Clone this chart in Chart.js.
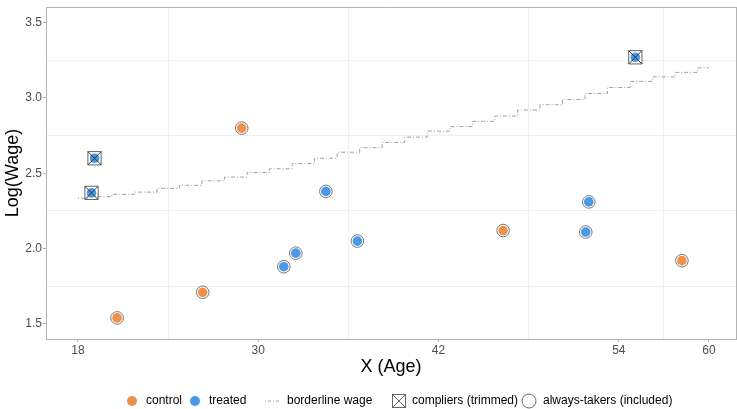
<!DOCTYPE html>
<html>
<head>
<meta charset="utf-8">
<script src="https://cdn.jsdelivr.net/npm/chart.js@4.4.1/dist/chart.umd.min.js"></script>
<style>
  html, body { margin: 0; padding: 0; background: #fff; }
  #wrap { width: 737px; height: 409px; }
</style>
</head>
<body>
<div id="wrap"><canvas id="chart" width="737" height="409"></canvas></div>
<script>
// observed points
const controlAge = [20.6, 26.3, 28.9, 46.3, 58.2];
const controlWage = [1.54, 1.71, 2.80, 2.12, 1.92];
const treatedAge = [18.9, 19.1, 31.7, 32.5, 34.5, 36.6, 51.8, 52.0, 55.1];
const treatedWage = [2.37, 2.60, 1.88, 1.97, 2.38, 2.05, 2.11, 2.31, 3.27];
const treatedComplier = [true, true, false, false, false, false, false, false, true];

// borderline wage (step line), read every 1.5 years
const borderAge = [18, 19.5, 21, 22.5, 24, 25.5, 27, 28.5, 30, 31.5, 33, 34.5, 36, 37.5, 39,
                   40.5, 42, 43.5, 45, 46.5, 48, 49.5, 51, 52.5, 54, 55.5, 57, 58.5, 60];
const borderWage = [2.335, 2.345, 2.36, 2.375, 2.40, 2.42, 2.45, 2.475, 2.505, 2.53, 2.565, 2.60,
                    2.64, 2.67, 2.705, 2.74, 2.78, 2.81, 2.845, 2.88, 2.92, 2.955, 2.99, 3.03,
                    3.07, 3.11, 3.14, 3.17, 3.20];

const xTicks = [18, 30, 42, 54, 60];
const xMinor = [24, 36, 48, 57];
const yTicks = [1.5, 2.0, 2.5, 3.0, 3.5];
const yMinor = [1.75, 2.25, 2.75, 3.25];

const legendLabels = ['control', 'treated', 'borderline wage', 'compliers (trimmed)', 'always-takers (included)'];

const ORANGE = '#F0914B';
const BLUE = '#4A98E8';
const FONT = '"Liberation Sans", Arial, sans-serif';

const pts = (xs, ys) => xs.map((x, i) => ({ x: x, y: ys[i] }));
const controlPts = pts(controlAge, controlWage);
const treatedPts = pts(treatedAge, treatedWage);
const compliers = treatedPts.filter((p, i) => treatedComplier[i]);
const alwaysTakers = controlPts.concat(treatedPts.filter((p, i) => !treatedComplier[i]));

const setTicks = (vals) => (scale) => { scale.ticks = vals.map(v => ({ value: v })); };
// fixed axis size, no extra label padding pushed into the layout
const fixSize = (w, h) => (s) => {
  if (w !== null) s.width = w;
  if (h !== null) s.height = h;
  s.paddingLeft = s.paddingRight = s.paddingTop = s.paddingBottom = 0;
};

// hand-placed legend row under the x title
const legendPlugin = {
  id: 'bottomLegend',
  afterDraw(chart) {
    const ctx = chart.ctx;
    const y = 401;
    ctx.save();
    ctx.font = '12px ' + FONT;
    ctx.fillStyle = '#000';
    ctx.textBaseline = 'middle';
    ctx.textAlign = 'left';

    ctx.beginPath(); ctx.fillStyle = ORANGE; ctx.arc(132, y, 5, 0, Math.PI * 2); ctx.fill();
    ctx.fillStyle = '#000'; ctx.fillText(legendLabels[0], 146, y);

    ctx.beginPath(); ctx.fillStyle = BLUE; ctx.arc(195, y, 5, 0, Math.PI * 2); ctx.fill();
    ctx.fillStyle = '#000'; ctx.fillText(legendLabels[1], 209, y);

    ctx.strokeStyle = '#888'; ctx.lineWidth = 0.8; ctx.setLineDash([1, 2, 3, 2]);
    ctx.beginPath(); ctx.moveTo(265, y); ctx.lineTo(280, y); ctx.stroke();
    ctx.setLineDash([]);
    ctx.fillText(legendLabels[2], 287, y);

    ctx.strokeStyle = '#666'; ctx.lineWidth = 1;
    ctx.strokeRect(392.5, y - 6.5, 13, 13);
    ctx.beginPath();
    ctx.moveTo(392.5, y - 6.5); ctx.lineTo(405.5, y + 6.5);
    ctx.moveTo(405.5, y - 6.5); ctx.lineTo(392.5, y + 6.5);
    ctx.stroke();
    ctx.fillText(legendLabels[3], 412, y);

    ctx.beginPath(); ctx.arc(529, y, 7, 0, Math.PI * 2); ctx.stroke();
    ctx.fillText(legendLabels[4], 543, y);
    ctx.restore();
  }
};

new Chart(document.getElementById('chart'), {
  type: 'scatter',
  data: {
    datasets: [
      {
        label: legendLabels[3] + ' x',
        data: compliers,
        pointStyle: 'crossRot',
        pointRadius: 9.4,
        borderColor: '#333',
        borderWidth: 1,
        order: 1
      },
      {
        label: legendLabels[3],
        data: compliers,
        pointStyle: 'rect',
        pointRadius: 9.4,
        borderColor: '#666',
        backgroundColor: 'rgba(0,0,0,0)',
        borderWidth: 1,
        order: 1
      },
      {
        label: legendLabels[4],
        data: alwaysTakers,
        pointStyle: 'circle',
        pointRadius: 6.3,
        borderColor: '#777',
        backgroundColor: 'rgba(0,0,0,0)',
        borderWidth: 1,
        order: 1
      },
      {
        label: legendLabels[0],
        data: controlPts,
        pointRadius: 4.8,
        backgroundColor: ORANGE,
        borderWidth: 0,
        order: 2
      },
      {
        label: legendLabels[1],
        data: treatedPts,
        pointRadius: 4.8,
        backgroundColor: BLUE,
        borderWidth: 0,
        order: 2
      },
      {
        type: 'line',
        label: legendLabels[2],
        data: pts(borderAge, borderWage),
        stepped: 'middle',
        borderColor: '#777',
        borderWidth: 0.7,
        borderDash: [1, 2, 4, 2],
        pointRadius: 0,
        fill: false,
        order: 3
      }
    ]
  },
  options: {
    responsive: false,
    animation: false,
    devicePixelRatio: 1,
    layout: { autoPadding: false, padding: { top: 7, right: 1, bottom: 31, left: 0 } },
    plugins: { legend: { display: false }, tooltip: { enabled: false } },
    scales: {
      x: {
        type: 'linear', position: 'bottom', min: 15.87, max: 61.8,
        afterBuildTicks: setTicks(xTicks),
        afterFit: fixSize(null, 39),
        ticks: { color: '#4d4d4d', font: { family: FONT, size: 12 }, padding: 1, autoSkip: false, maxRotation: 0 },
        grid: { drawOnChartArea: false, drawTicks: true, tickLength: 3, tickColor: '#b3b3b3' },
        border: { color: '#b3b3b3', width: 1 },
        title: { display: true, text: 'X (Age)', color: '#000', font: { family: FONT, size: 18 }, padding: { top: 0, bottom: 0 } }
      },
      xMinor: {
        type: 'linear', position: 'top', min: 15.87, max: 61.8,
        afterBuildTicks: setTicks(xMinor),
        afterFit: fixSize(null, 0),
        ticks: { display: false },
        grid: { color: '#efefef', lineWidth: 1, drawTicks: false },
        border: { color: '#b3b3b3', width: 1 }
      },
      y: {
        type: 'linear', position: 'left', min: 1.40, max: 3.604,
        afterBuildTicks: setTicks(yTicks),
        afterFit: fixSize(46, null),
        ticks: { color: '#4d4d4d', font: { family: FONT, size: 12 }, padding: 1,
                 callback: (v) => v.toFixed(1) },
        grid: { drawOnChartArea: false, drawTicks: true, tickLength: 3, tickColor: '#b3b3b3' },
        border: { color: '#b3b3b3', width: 1 },
        title: { display: true, text: 'Log(Wage)', color: '#000', font: { family: FONT, size: 18 }, padding: { top: 2, bottom: 0 } }
      },
      yMinor: {
        type: 'linear', position: 'right', min: 1.40, max: 3.604,
        afterBuildTicks: setTicks(yMinor),
        afterFit: fixSize(0, null),
        ticks: { display: false },
        grid: { color: '#efefef', lineWidth: 1, drawTicks: false },
        border: { color: '#b3b3b3', width: 1 }
      }
    }
  },
  plugins: [legendPlugin]
});
</script>
</body>
</html>
